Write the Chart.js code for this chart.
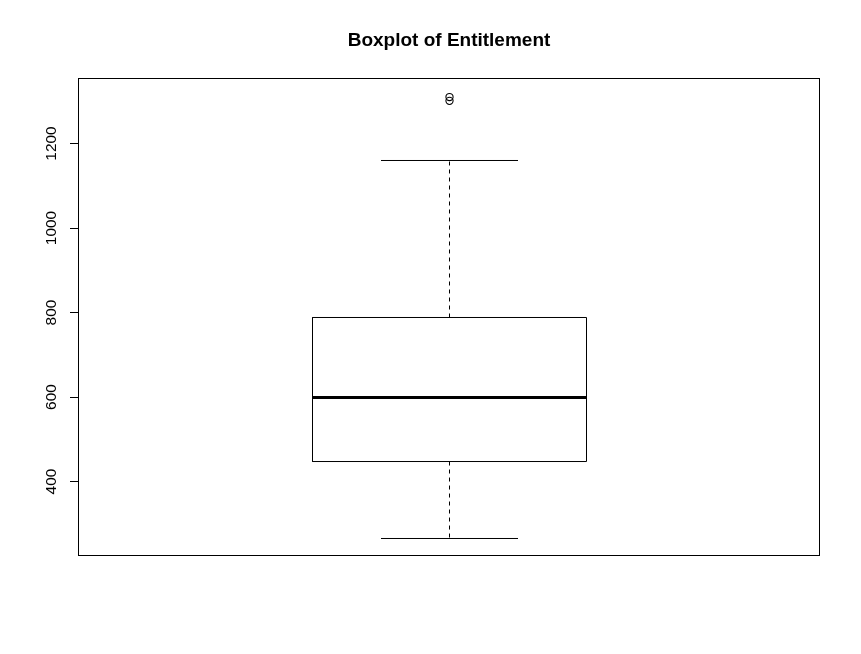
<!DOCTYPE html>
<html>
<head>
<meta charset="utf-8">
<script src="https://cdn.jsdelivr.net/npm/chart.js@4/dist/chart.umd.min.js"></script>
<style>
  html, body { margin: 0; padding: 0; background: #ffffff; }
  #wrap { width: 861px; height: 654px; }
</style>
</head>
<body>
<div id="wrap"><canvas id="c" width="861" height="654"></canvas></div>
<script>
// ---- data ----
const categories = ['Entitlement'];
const whiskerLow = [265.1];
const q1 = [447.3];
const median = [598.8];
const q3 = [788.2];
const whiskerHigh = [1159.8];
const outliers = [1310, 1301];
const yTicks = [400, 600, 800, 1000, 1200];
const titleText = 'Boxplot of Entitlement';

// ---- geometry (R boxplot defaults) ----
const center = 1;
const boxHalf = 0.2;
const capHalf = 0.1;

const seg = (x1, y1, x2, y2) => [{x: x1, y: y1}, {x: x2, y: y2}];
const i = 0;
const lineDs = (data, extra) => Object.assign({
  data, showLine: true, borderColor: '#000', backgroundColor: '#000',
  borderWidth: 1, pointRadius: 0, pointHoverRadius: 0, fill: false, tension: 0
}, extra || {});

const datasets = [
  lineDs([
    {x: center - boxHalf, y: q1[i]}, {x: center + boxHalf, y: q1[i]},
    {x: center + boxHalf, y: q3[i]}, {x: center - boxHalf, y: q3[i]},
    {x: center - boxHalf, y: q1[i]}
  ], {label: categories[i] + ' box'}),
  lineDs(seg(center - boxHalf, median[i], center + boxHalf, median[i]), {borderWidth: 3, borderCapStyle: 'butt', label: 'median'}),
  lineDs(seg(center, q3[i], center, whiskerHigh[i]), {borderDash: [4, 4], label: 'upper whisker'}),
  lineDs(seg(center, q1[i], center, whiskerLow[i]), {borderDash: [4, 4], label: 'lower whisker'}),
  lineDs(seg(center - capHalf, whiskerHigh[i], center + capHalf, whiskerHigh[i]), {label: 'upper cap'}),
  lineDs(seg(center - capHalf, whiskerLow[i], center + capHalf, whiskerLow[i]), {label: 'lower cap'}),
  {
    label: 'outliers',
    data: outliers.map(v => ({x: center, y: v})),
    showLine: false,
    pointStyle: 'circle',
    pointRadius: 3.6,
    pointHoverRadius: 3.6,
    borderWidth: 1.1,
    borderColor: '#000',
    backgroundColor: 'rgba(0,0,0,0)'
  }
];

const frameAndLabels = {
  id: 'frameAndLabels',
  afterDraw(chart) {
    const ctx = chart.ctx;
    const a = chart.chartArea;
    ctx.save();
    ctx.strokeStyle = '#000';
    ctx.lineWidth = 1;
    const l = Math.round(a.left) + 0.5, t = Math.round(a.top) + 0.5;
    const r = Math.round(a.right) - 0.5, b = Math.round(a.bottom) - 0.5;
    ctx.strokeRect(l, t, r - l, b - t);
    // rotated y tick labels (R style, parallel to axis)
    const ys = chart.scales.y;
    ctx.fillStyle = '#000';
    ctx.font = '15.5px "Liberation Sans", Arial, sans-serif';
    ctx.textAlign = 'center';
    ctx.textBaseline = 'alphabetic';
    yTicks.forEach(v => {
      const py = ys.getPixelForValue(v);
      ctx.save();
      ctx.translate(a.left - 22.5, py);
      ctx.rotate(-Math.PI / 2);
      ctx.fillText(String(v), 0, 0);
      ctx.restore();
    });
    ctx.restore();
  }
};

new Chart(document.getElementById('c'), {
  type: 'scatter',
  data: { datasets },
  options: {
    responsive: false,
    animation: false,
    events: [],
    layout: { padding: { left: 0, right: 41, top: 0, bottom: 98 } },
    plugins: {
      legend: { display: false },
      tooltip: { enabled: false },
      title: {
        display: true,
        text: titleText,
        fullSize: false,
        color: '#000',
        font: { family: '"Liberation Sans", Arial, sans-serif', size: 19, weight: 'bold', lineHeight: 1.2 },
        padding: { top: 29, bottom: 26.2 }
      }
    },
    scales: {
      x: {
        type: 'linear',
        min: 0.45766,
        max: 1.54087,
        display: false
      },
      y: {
        type: 'linear',
        min: 223.67,
        max: 1355.03,
        afterBuildTicks: s => { s.ticks = yTicks.map(v => ({value: v})); },
        afterFit: s => { s.width = 78; },
        grid: { drawOnChartArea: false, drawTicks: true, tickLength: 8, tickColor: '#000', tickWidth: 1 },
        border: { display: false },
        ticks: { color: 'rgba(0,0,0,0)', padding: 0, font: { size: 15 } }
      }
    }
  },
  plugins: [frameAndLabels]
});
</script>
</body>
</html>
